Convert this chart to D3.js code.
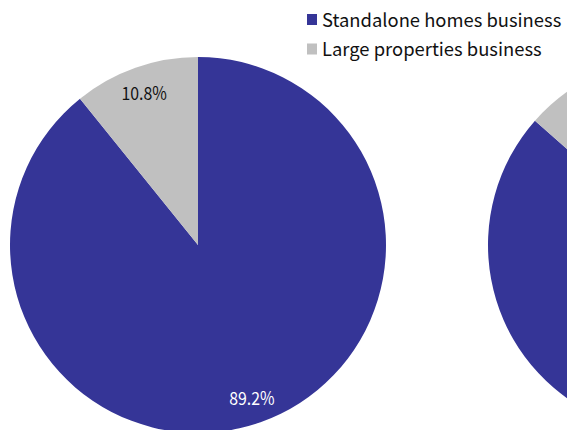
<!DOCTYPE html>
<html>
<head>
<meta charset="utf-8">
<script src="https://cdn.jsdelivr.net/npm/d3@7"></script>
<style>
  html, body { margin: 0; padding: 0; background: #fff; overflow: hidden; }
  svg { display: block; font-family: "Noto Sans CJK JP", "Noto Sans", sans-serif; }
</style>
</head>
<body>
<svg id="chart" width="567" height="430"></svg>
<script>
// data
const categories = ["Standalone homes business", "Large properties business"];
const pieLeft = [89.2, 10.8];
const pieRight = [86.5, 13.5];  // second pie is mostly cut off, share estimated
const colors = ["#353597", "#c0c0c0"];

const svg = d3.select("#chart");
const radius = 188;
const labelRadius = 162;

const pie = d3.pie().sort(null).value(d => d);
const arc = d3.arc().innerRadius(0).outerRadius(radius);
const labelArc = d3.arc().innerRadius(labelRadius).outerRadius(labelRadius);

function drawPie(values, cx, cy, showLabels) {
  const g = svg.append("g").attr("transform", `translate(${cx},${cy})`);
  const arcs = pie(values);

  g.selectAll("path")
    .data(arcs)
    .enter()
    .append("path")
    .attr("d", arc)
    .attr("fill", (d, i) => colors[i]);

  if (!showLabels) return;  // right pie labels fall outside the visible area

  g.selectAll("text")
    .data(arcs)
    .enter()
    .append("text")
    // gothic digits are narrow, so squeeze a bit horizontally
    .attr("transform", d => `translate(${labelArc.centroid(d)}) scale(0.88,1)`)
    .attr("text-anchor", "middle")
    .attr("dy", "0.42em")
    .attr("font-size", "18px")
    .attr("fill", (d, i) => i === 0 ? "#ffffff" : "#111")
    .text(d => d.data.toFixed(1) + "%");
}

drawPie(pieLeft, 198, 245, true);
drawPie(pieRight, 676, 245, false);

// legend
const legend = svg.append("g").attr("transform", "translate(307,14)");
const items = legend.selectAll("g")
  .data(categories)
  .enter()
  .append("g")
  .attr("transform", (d, i) => `translate(0,${i * 29.5})`);

items.append("rect")
  .attr("width", 10)
  .attr("height", 11)
  .attr("fill", (d, i) => colors[i]);

items.append("text")
  .attr("x", 15)
  .attr("y", 12.7)
  .attr("font-size", "18.4px")
  .attr("fill", "#111")
  .text(d => d);
</script>
</body>
</html>
